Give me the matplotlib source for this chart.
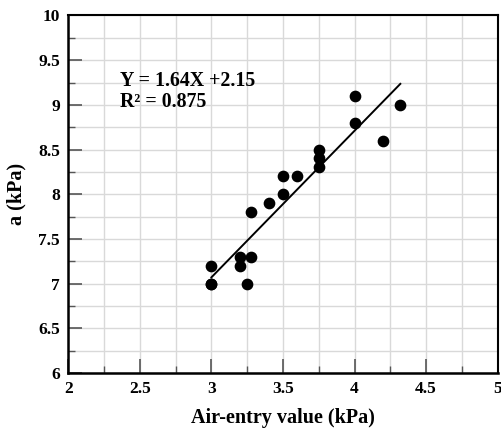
import matplotlib
matplotlib.use("Agg")
import matplotlib.pyplot as plt
import numpy as np
from matplotlib.ticker import MultipleLocator

air_entry = [4.0, 4.32, 4.0, 4.2, 3.75, 3.75, 3.75, 3.5, 3.6, 3.5, 3.4, 3.28,
             3.0, 3.2, 3.28, 3.2, 3.0, 3.25, 3.0]
a_values = [9.1, 9.0, 8.8, 8.6, 8.5, 8.4, 8.3, 8.2, 8.2, 8.0, 7.9, 7.8,
            7.2, 7.3, 7.3, 7.2, 7.0, 7.0, 7.0]
slope = 1.64
intercept = 2.15
fit_x = [3.0, 4.32]
xticks = [2, 2.5, 3, 3.5, 4, 4.5, 5]
xticklabels = ["2", "2.5", "3", "3.5", "4", "4.5", "5"]
yticks = [6, 6.5, 7, 7.5, 8, 8.5, 9, 9.5, 10]
yticklabels = ["6", "6.5", "7", "7.5", "8", "8.5", "9", "9.5", "10"]

plt.rcParams['font.family'] = ['Liberation Serif', 'DejaVu Serif']
plt.rcParams['font.weight'] = 'bold'

fig = plt.figure(figsize=(5.01, 4.30), dpi=100)
ax = fig.add_axes([0.1363, 0.1326, 0.857, 0.8314])

ax.set_xlim(2, 5)
ax.set_ylim(6, 10)
ax.xaxis.set_minor_locator(MultipleLocator(0.25))
ax.yaxis.set_minor_locator(MultipleLocator(0.25))
ax.set_xticks(xticks)
ax.set_xticklabels(xticklabels, fontsize=12.5, fontweight='bold')
ax.set_yticks(yticks)
ax.set_yticklabels(yticklabels, fontsize=12.5, fontweight='bold')

ax.grid(True, which='both', color='#d9d9d9', linewidth=1.0)
ax.set_axisbelow(True)

ax.tick_params(which='major', direction='in', length=10, width=1.2, color='#555555',
               top=False, right=False, pad=6)
ax.tick_params(which='minor', direction='in', length=5, width=1.0, color='#555555',
               top=False, right=False)

for s in ['left', 'bottom']:
    ax.spines[s].set_linewidth(1.8)
for s in ['top', 'right']:
    ax.spines[s].set_linewidth(1.5)

ax.scatter(air_entry, a_values, s=55, color='black', zorder=3)
fx = np.array(fit_x)
ax.plot(fx, slope * fx + intercept, color='black', linewidth=1.4, zorder=3)

ax.text(0.121, 0.845, "Y = 1.64X +2.15\nR² = 0.875", transform=ax.transAxes,
        fontsize=14.3, fontweight='bold', va='top', ha='left', linespacing=1.05)

ax.set_xlabel("Air-entry value (kPa)", fontsize=14.5, fontweight='bold', labelpad=8)
ax.set_ylabel("a (kPa)", fontsize=14.5, fontweight='bold', labelpad=8)

fig.savefig("out.png", dpi=100)
